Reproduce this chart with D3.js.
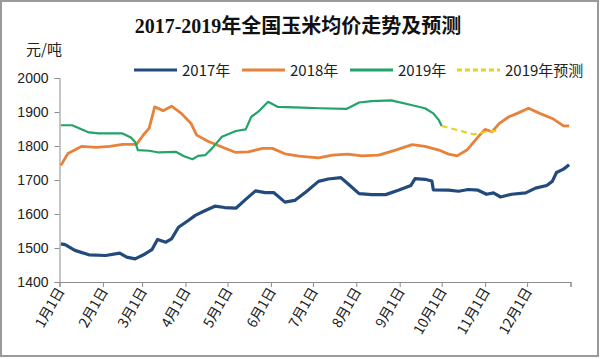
<!DOCTYPE html>
<html><head><meta charset="utf-8">
<script src="https://cdn.jsdelivr.net/npm/d3@7"></script>
<style>body{margin:0;background:#fff}svg{display:block}</style>
</head><body>
<script>
// Data: [day of year (0 = Jan 1), price 元/吨]
const series2017 = [[1,1512],[4,1510],[11,1493],[21,1480],[33,1478],[43,1485],[48,1473],[54,1468],[60,1480],[66,1495],[70,1525],[76,1517],[80,1527],[85,1561],[92,1581],[97,1596],[103,1608],[111,1623],[118,1619],[126,1617],[133,1643],[140,1668],[147,1663],[153,1663],[161,1635],[168,1640],[176,1665],[185,1696],[192,1703],[201,1707],[206,1689],[214,1660],[223,1657],[233,1657],[242,1670],[251,1684],[254,1704],[261,1702],[266,1697],[267,1671],[278,1670],[285,1667],[292,1672],[299,1670],[305,1658],[310,1662],[315,1650],[323,1658],[333,1662],[340,1676],[348,1684],[352,1696],[355,1722],[360,1732],[364,1745]];
const series2018 = [[1,1743],[6,1778],[16,1799],[26,1796],[36,1799],[45,1805],[55,1805],[60,1833],[64,1852],[68,1915],[74,1904],[80,1917],[87,1896],[94,1866],[98,1832],[106,1814],[116,1797],[126,1781],[135,1783],[145,1793],[152,1793],[161,1777],[171,1770],[185,1765],[195,1773],[206,1776],[216,1771],[228,1773],[240,1788],[252,1804],[261,1799],[271,1788],[278,1776],[284,1771],[291,1788],[299,1827],[304,1849],[309,1842],[314,1866],[321,1886],[327,1896],[335,1911],[343,1896],[352,1881],[360,1859],[364,1859]];
const series2019 = [[1,1861],[9,1861],[14,1852],[21,1840],[28,1837],[45,1837],[51,1825],[54,1812],[56,1788],[64,1786],[71,1781],[83,1783],[89,1770],[95,1761],[99,1771],[104,1773],[109,1793],[116,1827],[126,1844],[133,1849],[137,1886],[142,1901],[149,1930],[156,1915],[173,1913],[186,1911],[205,1909],[214,1928],[223,1932],[237,1934],[252,1920],[261,1911],[267,1896],[271,1876],[273,1859]];
const forecast2019 = [[273,1859],[296,1834],[305,1842],[315,1845]];
const monthTicks = [0,31,59,90,120,151,181,212,243,273,304,334];
const monthLabels = ["1月1日","2月1日","3月1日","4月1日","5月1日","6月1日","7月1日","8月1日","9月1日","10月1日","11月1日","12月1日"];
const yTicks = [1400,1500,1600,1700,1800,1900,2000];
const legendNames = ["2017年","2018年","2019年","2019年预测"];

const W = 600, H = 359;
const svg = d3.select("body").append("svg").attr("width", W).attr("height", H);

svg.append("rect").attr("x",1).attr("y",1).attr("width",W-3).attr("height",H-4)
  .attr("fill","#fff").attr("stroke","#9a9a9a").attr("stroke-width",2);

const x = d3.scaleLinear().domain([0,365]).range([59.5,570.5]);
const y = d3.scaleLinear().domain([1400,2000]).range([282,78]);

// title
svg.append("text").attr("x",298).attr("y",33).attr("text-anchor","middle")
  .attr("font-family","'Liberation Serif','Noto Sans CJK SC',serif").attr("font-weight","bold")
  .attr("font-size",20).attr("fill","#111").text("2017-2019年全国玉米均价走势及预测");

svg.append("text").attr("x",26).attr("y",55)
  .attr("font-family","'Noto Sans CJK SC',sans-serif").attr("font-size",15).attr("fill","#222").text("元/吨");

// axes
const yAxis = d3.axisLeft(y).tickValues(yTicks).tickSize(5).tickPadding(6).tickFormat(d3.format("d"));
const gy = svg.append("g").attr("transform",`translate(${x(0)},0)`).call(yAxis);
gy.selectAll("text").attr("font-family","'Liberation Sans',Arial,sans-serif").attr("font-size",14).attr("fill","#222");
gy.selectAll("line,path").attr("stroke","#8c8c8c");

const xAxis = d3.axisBottom(x).tickValues(monthTicks.concat([365])).tickSize(5)
  .tickFormat((d,i)=> i < monthLabels.length ? monthLabels[i] : "");
const gx = svg.append("g").attr("transform",`translate(0,${y(1400)})`).call(xAxis);
gx.selectAll("line,path").attr("stroke","#8c8c8c");
gx.selectAll("text").attr("font-family","'Noto Sans CJK SC',sans-serif").attr("font-size",14).attr("fill","#222")
  .attr("text-anchor","end").attr("dy",0).attr("y",0)
  .attr("transform","translate(5,9) rotate(-60)");

const line = d3.line().x(d=>x(d[0])).y(d=>y(d[1]));
const styles = [
  {data: series2017, color:"#234a7c", w:3.2, dash:null},
  {data: series2018, color:"#e8823a", w:2.8, dash:null},
  {data: series2019, color:"#22a36a", w:2.2, dash:null},
  {data: forecast2019, color:"#e8d11e", w:2.2, dash:"6,4"}
];
styles.forEach(s=>{
  svg.append("path").datum(s.data).attr("d",line).attr("fill","none")
    .attr("stroke",s.color).attr("stroke-width",s.w).attr("stroke-linejoin","round")
    .attr("stroke-dasharray",s.dash);
});

// legend
const legX = [134,242,350,457];
legendNames.forEach((n,i)=>{
  const s = styles[i];
  svg.append("line").attr("x1",legX[i]).attr("x2",legX[i]+43).attr("y1",70).attr("y2",70)
    .attr("stroke",s.color).attr("stroke-width",3).attr("stroke-dasharray",s.dash ? "5,3" : null);
  svg.append("text").attr("x",legX[i]+48).attr("y",75.5)
    .attr("font-family","'Noto Sans CJK SC',sans-serif").attr("font-size",15).attr("fill","#222").text(n);
});
</script>
</body></html>
